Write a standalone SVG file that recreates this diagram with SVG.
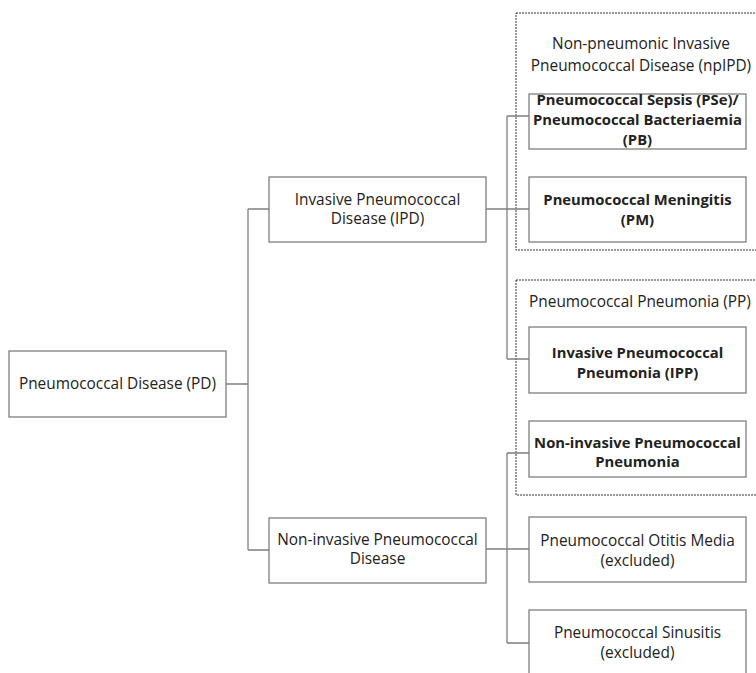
<svg xmlns="http://www.w3.org/2000/svg" width="756" height="673" viewBox="0 0 756 673">
<style>
.box{fill:#fff;stroke:#7f7f7f;stroke-width:1.3}
.grp{fill:none;stroke:#333;stroke-width:1;stroke-dasharray:2,1}
.ln{fill:none;stroke:#7f7f7f;stroke-width:1.3}
text{font-family:"Open Sans","Noto Sans",sans-serif;font-size:15.4px;fill:#222;text-anchor:middle}
.b{font-weight:bold;font-size:14.8px}
</style>
<rect width="756" height="673" fill="#fff"/>
<g id="group-npIPD">
<rect class="grp" x="516" y="13" width="260" height="237"/>
<text x="641" y="49">Non-pneumonic Invasive</text>
<text x="641" y="71">Pneumococcal Disease (npIPD)</text>
</g>
<g id="group-PP">
<rect class="grp" x="516" y="280" width="260" height="215"/>
<text x="640" y="307">Pneumococcal Pneumonia (PP)</text>
</g>
<g id="connectors">
<path class="ln" d="M226 384H248M248 209V550M248 209H269M248 550H269"/>
<path class="ln" d="M486 209H529M507 116V359M507 116H529M507 359H529"/>
<path class="ln" d="M486 549H529M507 453V643M507 453H529M507 643H529"/>
</g>
<g id="PD">
<rect class="box" x="9" y="351" width="217" height="66"/>
<text x="117.5" y="389">Pneumococcal Disease (PD)</text>
</g>
<g id="IPD">
<rect class="box" x="269" y="177" width="217" height="65"/>
<text x="377.5" y="205">Invasive Pneumococcal</text>
<text x="377.5" y="224">Disease (IPD)</text>
</g>
<g id="NIPD">
<rect class="box" x="269" y="518" width="217" height="65"/>
<text x="377.5" y="545">Non-invasive Pneumococcal</text>
<text x="377.5" y="564">Disease</text>
</g>
<g id="PSe">
<rect class="box" x="529" y="94" width="217" height="55"/>
<text class="b" x="637.5" y="105">Pneumococcal Sepsis (PSe)/</text>
<text class="b" x="637.5" y="125">Pneumococcal Bacteriaemia</text>
<text class="b" x="637.5" y="145">(PB)</text>
</g>
<g id="PM">
<rect class="box" x="529" y="177" width="217" height="65"/>
<text class="b" x="637.5" y="205">Pneumococcal Meningitis</text>
<text class="b" x="637.5" y="225">(PM)</text>
</g>
<g id="IPP">
<rect class="box" x="529" y="327" width="217" height="66"/>
<text class="b" x="637.5" y="358">Invasive Pneumococcal</text>
<text class="b" x="637.5" y="378">Pneumonia (IPP)</text>
</g>
<g id="NIPP">
<rect class="box" x="529" y="421" width="217" height="56"/>
<text class="b" x="637.5" y="448">Non-invasive Pneumococcal</text>
<text class="b" x="637.5" y="467">Pneumonia</text>
</g>
<g id="POM">
<rect class="box" x="529" y="517" width="217" height="65"/>
<text x="637.5" y="546">Pneumococcal Otitis Media</text>
<text x="637.5" y="566">(excluded)</text>
</g>
<g id="PS">
<rect class="box" x="529" y="610" width="217" height="75"/>
<text x="637.5" y="638">Pneumococcal Sinusitis</text>
<text x="637.5" y="658">(excluded)</text>
</g>
</svg>
